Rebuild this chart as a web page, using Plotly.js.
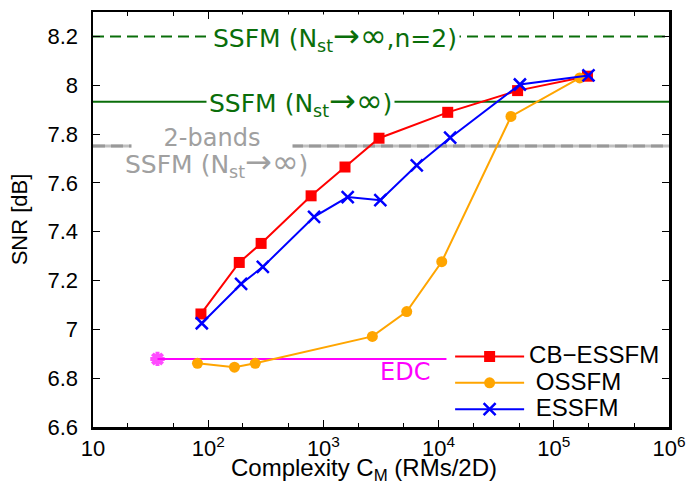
<!DOCTYPE html>
<html>
<head>
<meta charset="utf-8">
<script src="https://cdn.plot.ly/plotly-3.0.1.min.js"></script>
<style>html,body{margin:0;padding:0;background:#fff}#chart{width:697px;height:482px}</style>
</head>
<body>
<div id="chart"></div>
<script>
// ---- data ----
const cbX = [86.5, 186, 288, 782, 1540, 3040, 12000, 48500, 196000];
const cbY = [7.063, 7.274, 7.352, 7.547, 7.665, 7.783, 7.889, 7.978, 8.037];

const ossfmX = [80.7, 169, 256, 2660, 5290, 10650, 42500, 168000];
const ossfmY = [6.861, 6.845, 6.861, 6.971, 7.073, 7.277, 7.872, 8.030];

const essfmX = [88, 193, 298, 830, 1625, 3120, 6460, 12600, 50800, 200000];
const essfmY = [7.025, 7.186, 7.256, 7.461, 7.542, 7.529, 7.672, 7.785, 8.003, 8.040];

const edcX = [36.3, 11700];
const edcY = [6.879, 6.879];

const ssfmN2Level = 8.2;
const ssfmLevel = 7.932;
const twoBandsLevel = 7.751;

const xTickVals = [10, 100, 1000, 10000, 100000, 1000000];
const xTickText = ['10', '10<sup>2</sup>', '10<sup>3</sup>', '10<sup>4</sup>', '10<sup>5</sup>', '10<sup>6</sup>'];
const yTickVals = [6.6, 6.8, 7.0, 7.2, 7.4, 7.6, 7.8, 8.0, 8.2];
const yTickText = ['6.6', '6.8', '7', '7.2', '7.4', '7.6', '7.8', '8', '8.2'];

const seriesNames = ['CB\u2212ESSFM', 'OSSFM', 'ESSFM'];
const xTitle = 'Complexity C<sub>M</sub> (RMs/2D)';
const yTitle = 'SNR [dB]';
// ---------------------------------------

const green = '#0a6e0a';
const grey = '#a0a0a0';
const annFont = 'DejaVu Sans, Verdana, sans-serif';
const axFont = 'Liberation Sans, Arial, sans-serif';
const sym = s => '<span style="font-size:32px">' + s + '</span>';

function legendName(s) { return '<span style="font-size:24px">' + s + '</span>'; }

const traces = [
  {x: edcX, y: edcY, mode: 'lines+markers', showlegend: false,
   line: {color: '#ff00ff', width: 2},
   marker: {symbol: 'asterisk-open', size: [12, 0], color: '#ff00ff', line: {color: '#ee00ee', width: 4}}},
  {x: cbX, y: cbY, name: legendName(seriesNames[0]), mode: 'lines+markers',
   line: {color: '#ff0000', width: 2},
   marker: {symbol: 'square', size: 11, color: '#ff0000'}},
  {x: ossfmX, y: ossfmY, name: legendName(' ' + seriesNames[1]), mode: 'lines+markers',
   line: {color: '#ffa500', width: 2},
   marker: {symbol: 'circle', size: 11, color: '#ffa500'}},
  {x: essfmX, y: essfmY, name: legendName(' ' + seriesNames[2]), mode: 'lines+markers',
   line: {color: '#0000ff', width: 2},
   marker: {symbol: 'x-thin-open', size: 12, color: '#0000ff', line: {color: '#0000ff', width: 2.5}}}
];

const shapes = [
  {type: 'line', xref: 'paper', x0: 0, x1: 1, yref: 'y', y0: ssfmN2Level, y1: ssfmN2Level,
   line: {color: green, width: 2, dash: '11px,6px'}, layer: 'below'},
  {type: 'line', xref: 'paper', x0: 0, x1: 1, yref: 'y', y0: ssfmLevel, y1: ssfmLevel,
   line: {color: green, width: 2}, layer: 'below'},
  {type: 'line', xref: 'paper', x0: 0, x1: 1, yref: 'y', y0: twoBandsLevel, y1: twoBandsLevel,
   line: {color: '#c0c0c0', width: 3}, layer: 'below'},
  {type: 'line', xref: 'paper', x0: 0, x1: 1, yref: 'y', y0: twoBandsLevel, y1: twoBandsLevel,
   line: {color: '#999999', width: 3, dash: '12px,6px'}, layer: 'below'}
];

const annotations = [
  {xref: 'x', yref: 'y', x: 3.101, y: ssfmN2Level, text: 'SSFM (N<sub>st</sub>' + sym('\u2192\u221e') + ',n=2)',
   showarrow: false, font: {family: annFont, size: 25, color: green}, bgcolor: '#ffffff', borderpad: 2},
  {xref: 'x', yref: 'y', x: 2.798, y: ssfmLevel, text: 'SSFM (N<sub>st</sub>' + sym('\u2192\u221e') + ')',
   showarrow: false, font: {family: annFont, size: 25, color: green}, bgcolor: '#ffffff', borderpad: 2},
  {xref: 'x', yref: 'y', x: 2.036, y: 7.783, text: '2-bands',
   showarrow: false, font: {family: annFont, size: 24, color: grey}, bgcolor: '#ffffff', width: 158, yanchor: 'middle'},
  {xref: 'x', yref: 'y', x: 2.071, y: 7.685, text: 'SSFM (N<sub>st</sub>' + sym('\u2192\u221e') + ')',
   showarrow: false, font: {family: annFont, size: 25, color: grey}},
  {xref: 'x', yref: 'y', x: 3.71, y: 6.825, text: 'EDC',
   showarrow: false, font: {family: annFont, size: 24, color: '#ff00ff'}},
  // x-axis title placed as paper annotation so it can sit as low as in the reference
  {xref: 'paper', yref: 'paper', x: 0.47, y: -0.061, yanchor: 'top', text: xTitle,
   showarrow: false, font: {family: axFont, size: 24, color: '#000'}}
];

const axisCommon = {
  showline: true, linecolor: '#000', linewidth: 2.5, mirror: 'ticks',
  ticks: 'inside', tickcolor: '#000', tickwidth: 1, ticklen: 7,
  showgrid: false, zeroline: false,
  tickfont: {family: axFont, size: 22, color: '#000'}
};

const layout = {
  width: 697, height: 482,
  margin: {l: 93, r: 28, t: 12, b: 55},
  paper_bgcolor: '#fff', plot_bgcolor: '#fff',
  showlegend: true,
  legend: {x: 0.620, y: 0.214, xanchor: 'left', yanchor: 'top', bgcolor: 'rgba(255,255,255,0)',
    font: {family: axFont, size: 18, color: '#000'},
    itemwidth: 69, tracegroupgap: 0, traceorder: 'normal'},
  xaxis: Object.assign({}, axisCommon, {
    type: 'log', range: [1, 6], tickvals: xTickVals, ticktext: xTickText,
    minor: {ticks: 'inside', ticklen: 4, tickcolor: '#000', tickwidth: 1, showgrid: false}
  }),
  yaxis: Object.assign({}, axisCommon, {
    range: [6.6, 8.3], tickvals: yTickVals, ticktext: yTickText, ticklabelstandoff: 8,
    title: {text: yTitle, standoff: 14,
      font: {family: axFont, size: 22, color: '#000'}}
  }),
  shapes: shapes,
  annotations: annotations
};

Plotly.newPlot('chart', traces, layout, {displayModeBar: false, staticPlot: true});
</script>
</body>
</html>
